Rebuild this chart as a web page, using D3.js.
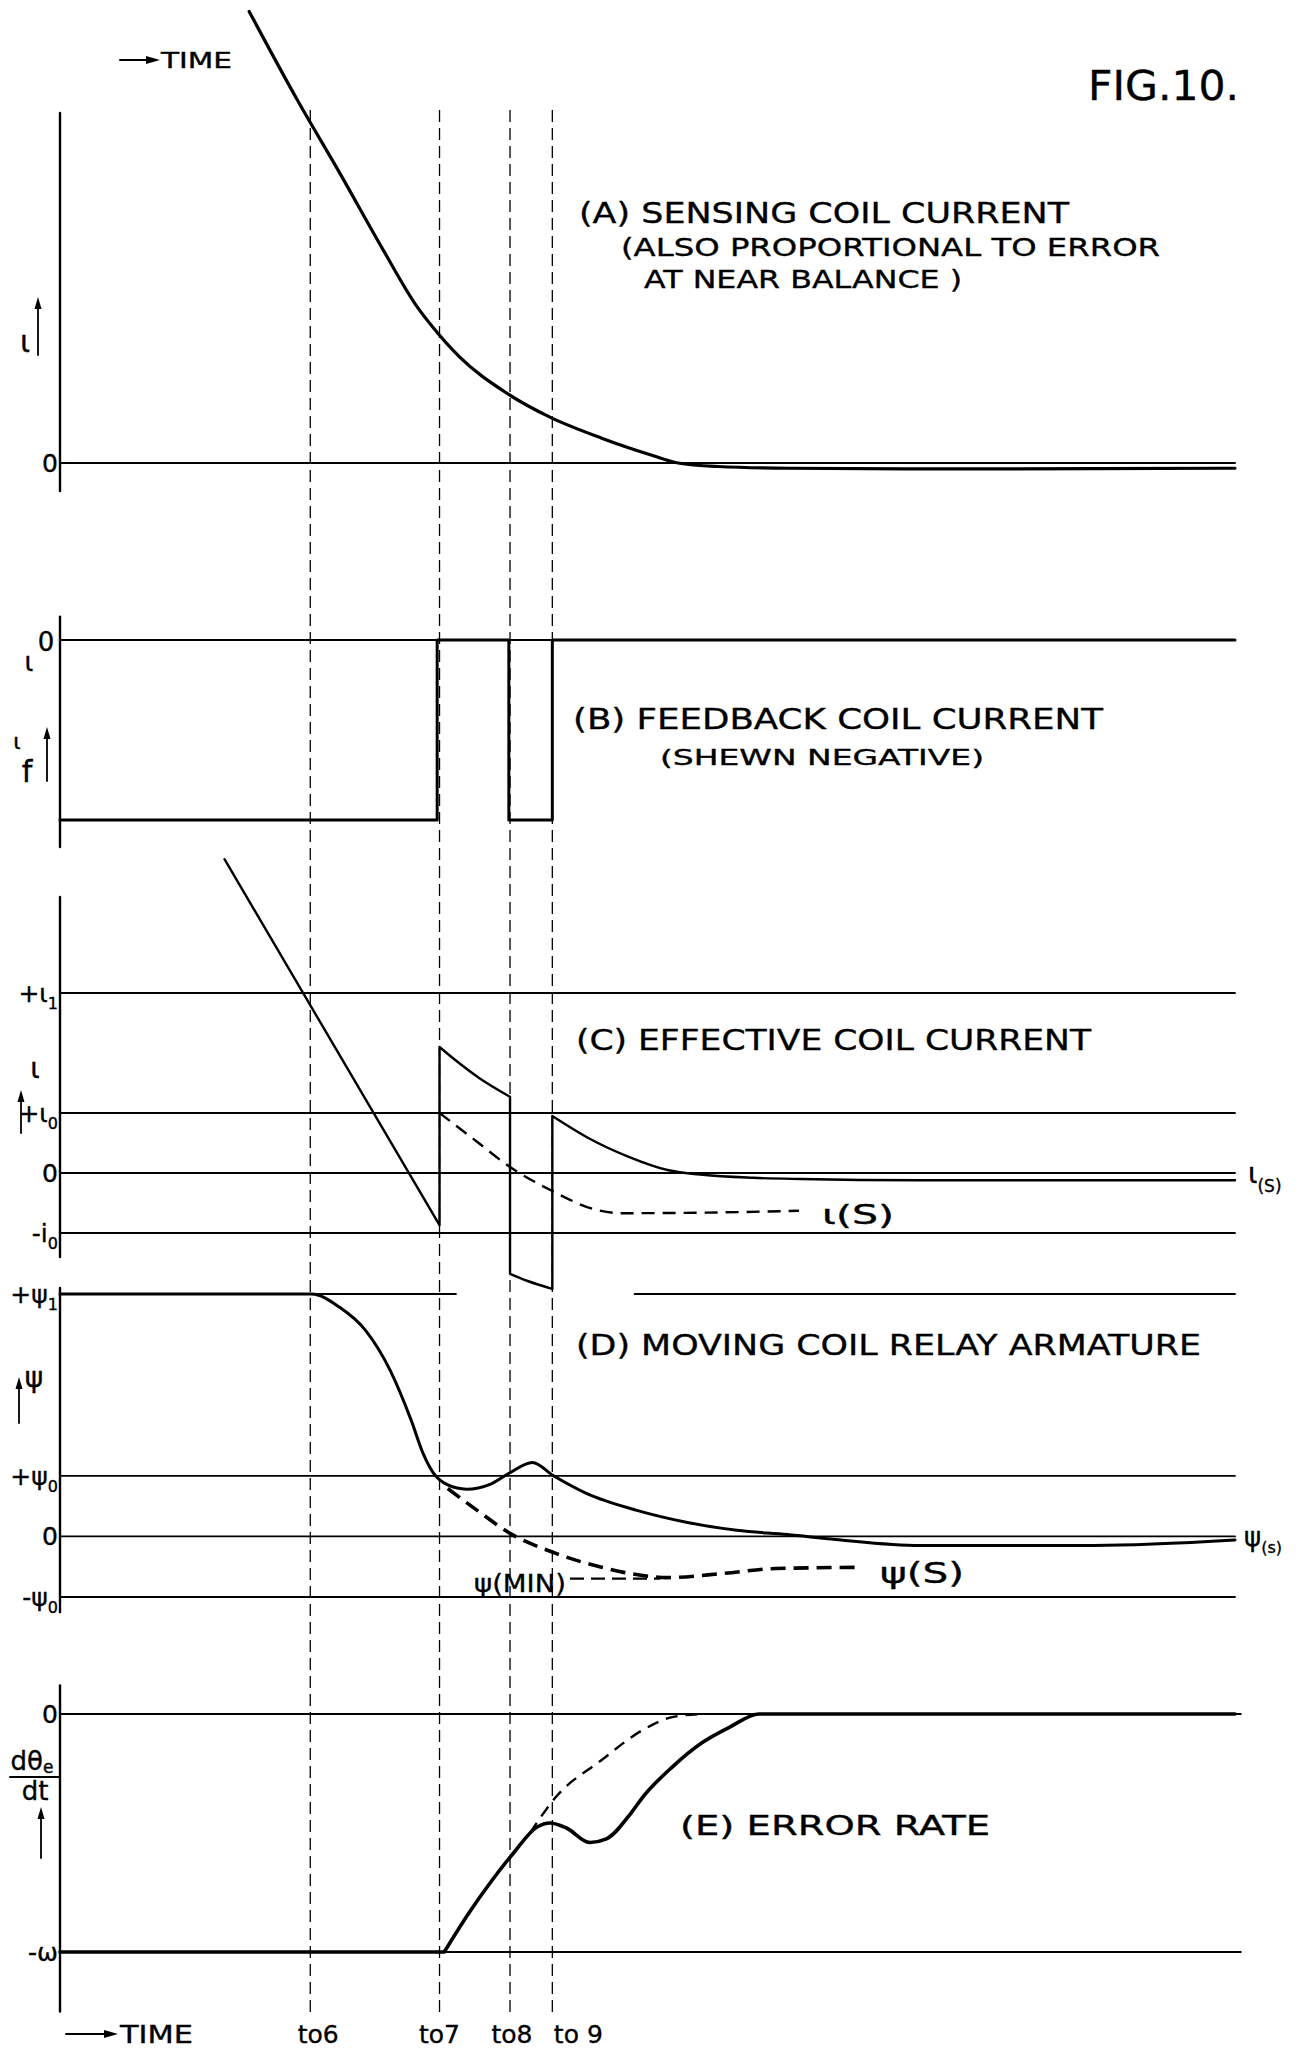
<!DOCTYPE html>
<html>
<head>
<meta charset="utf-8">
<script src="https://cdn.jsdelivr.net/npm/d3@7/dist/d3.min.js"></script>
<style>
  html, body { margin: 0; padding: 0; background: #fff; }
  svg { display: block; background: #fff; }
  text { font-family: "DejaVu Sans", sans-serif; fill: #000; stroke: #000; stroke-width: 0.35; }
</style>
</head>
<body>
<div id="chart"></div>
<script>
// Fig. 10 — relay servo waveforms, five stacked panels on a common time axis.

// ---- data -------------------------------------------------------------
// time runs 0..100 across the sheet
const timeMarkers = [21.3, 32.3, 38.3, 41.9];
const timeLabels = ['to6', 'to7', 'to8', 'to 9'];

// (A) sensing coil current, 0 = balance
const sensingCurrent = [
  [16.1, 1.29], [20.2, 1.037], [23.8, 0.829], [27.5, 0.609], [30.4, 0.446],
  [31.7, 0.389], [34.0, 0.303], [38.0, 0.2], [41.7, 0.131], [46.1, 0.071],
  [50.3, 0.023], [52.6, 0], [56, -0.01], [62, -0.015], [75, -0.017],
  [88, -0.016], [100, -0.015],
];

// (B) feedback coil current (shewn negative): 0 = off, -1 = on
const feedbackCurrent = [
  [0, -1], [32.1, -1], [32.1, 0], [38.2, 0], [38.2, -1],
  [41.9, -1], [41.9, 0], [100, 0],
];

// (C) effective coil current, in units of i0
const effRamp = [[14.0, 5.23], [32.3, -0.87]];
const effPulse1 = [[32.3, 2.1], [33.4, 1.92], [35.7, 1.58], [38.3, 1.27]];
const effPulse2 = [[38.3, -1.68], [39.8, -1.8], [41.9, -1.93]];
const effTail = [
  [41.9, 0.95], [45.0, 0.58], [48.4, 0.27], [51.7, 0.05], [54.7, -0.03],
  [59, -0.08], [63, -0.1], [73.2, -0.12], [88, -0.12], [100, -0.12],
];
const effSteady = [
  [32.3, 1.0], [35.3, 0.55], [38.3, 0.1], [41.9, -0.3], [45.4, -0.6],
  [47.7, -0.67], [55, -0.66], [62.9, -0.63],
];
const levelsC = [3, 1, 0, -1];

// (D) moving coil relay armature, in units of psi0
const armature = [
  [0, 4], [21.4, 4], [23.8, 3.78], [26.0, 3.40], [28.1, 2.74], [29.9, 1.91],
  [30.9, 1.37], [31.8, 1.04], [33.0, 0.85], [34.6, 0.78], [36.6, 0.86],
  [38.3, 1.05], [40.2, 1.22], [42.0, 1.0], [44.8, 0.71], [49.1, 0.43],
  [53.4, 0.23], [57.6, 0.1], [61.9, 0.03], [66, -0.05], [73.2, -0.15],
  [88, -0.15], [100, -0.06],
];
const armatureSteady = [
  [33.0, 0.79], [35.5, 0.43], [38.3, 0.05], [42.2, -0.28], [46.1, -0.51],
  [50.2, -0.66], [51.6, -0.68], [56.5, -0.61], [60.9, -0.53], [68.3, -0.51],
];
const levelsD = [1, 0, -1];
const psi1Spans = [[0, 33.7], [48.9, 100]];

// (E) error rate, in units of omega
const rateFlat = [[0, -1], [32.7, -1]];
const errorRate = [
  [32.7, -1], [34.8, -0.836], [36.6, -0.71], [38.6, -0.584], [40.6, -0.475],
  [41.7, -0.458], [43.1, -0.479], [45.1, -0.54], [46.5, -0.525], [48.6, -0.416],
  [49.6, -0.349], [52.1, -0.223], [54.6, -0.122], [57.0, -0.055], [59.5, 0],
  [100, 0],
];
const rateIdeal = [
  [40.0, -0.5], [42.2, -0.349], [46.1, -0.193], [49.6, -0.067], [52.1, -0.013], [54.6, 0],
];
const levelsE = [0, -1];

// left-hand level labels: [value, main text, subscript]
const labelsA = [[0, '0', '']];
const labelsC = [[3, '+ι', '1'], [1, '+ι', '0'], [0, '0', ''], [-1, '-i', '0']];
const labelsD = [[4, '+ψ', '1'], [1, '+ψ', '0'], [0, '0', ''], [-1, '-ψ', '0']];
const labelsE = [[0, '0', ''], [-1, '-ω', '']];

// ---- layout -------------------------------------------------------------
const W = 1307, H = 2049;
const svg = d3.select('#chart').append('svg').attr('width', W).attr('height', H);

const x = d3.scaleLinear().domain([0, 100]).range([60, 1235]);
const yA = d3.scaleLinear().domain([0, 1]).range([463, 113]);
const yB = d3.scaleLinear().domain([-1, 0]).range([820, 640]);
const yC = d3.scaleLinear().domain([-1, 3]).range([1233, 993]);
const yD = d3.scaleLinear().domain([-1, 4]).range([1597, 1294]);
const yE = d3.scaleLinear().domain([-1, 0]).range([1952, 1714]);

function joined(segments, yScale, curve = d3.curveMonotoneX) {
  const line = d3.line().x(d => x(d[0])).y(d => yScale(d[1])).curve(curve);
  return segments.map((s, i) => (i === 0 ? line(s) : 'L' + line(s).slice(1))).join('');
}

function stroke(sel, w) {
  return sel.attr('fill', 'none').attr('stroke', '#000').attr('stroke-width', w)
    .attr('stroke-linejoin', 'round').attr('stroke-linecap', 'round');
}

const gGrid = svg.append('g');
const gCurves = svg.append('g');
const gText = svg.append('g');

// time markers, dashed all the way down
gGrid.selectAll('.marker')
  .data(timeMarkers)
  .join('line')
  .attr('class', 'marker')
  .attr('x1', d => x(d)).attr('x2', d => x(d))
  .attr('y1', 110).attr('y2', 2012)
  .call(stroke, 1.3)
  .attr('stroke-linecap', 'butt')
  .attr('stroke-dasharray', '12,6');

// left axes of each panel
const axisSpans = [[yA, 1.0, -0.08], [yB, 0.13, -1.15], [yC, 4.6, -1.4], [yD, 4.1, -1.25], [yE, 0.12, -1.25]];
axisSpans.forEach(([s, top, bottom]) => {
  stroke(gGrid.append('line'), 2.4)
    .attr('x1', x(0)).attr('x2', x(0)).attr('y1', s(top)).attr('y2', s(bottom));
});

// level lines
function levelLine(s, v, t0 = 0, t1 = 100, w = 1.8) {
  stroke(gGrid.append('line'), w)
    .attr('x1', x(t0)).attr('x2', x(t1)).attr('y1', s(v)).attr('y2', s(v));
}
levelLine(yA, 0, 0, 100, 2);
levelLine(yB, 0, 0, 100, 2);
levelsC.forEach(v => levelLine(yC, v));
psi1Spans.forEach(([a, b]) => levelLine(yD, 4, a, b));
levelsD.forEach(v => levelLine(yD, v));
levelsE.forEach(v => levelLine(yE, v, 0, 100.5));

// curves
stroke(gCurves.append('path'), 3.2).attr('d', joined([sensingCurrent], yA));
stroke(gCurves.append('path'), 3).attr('d', joined([feedbackCurrent], yB, d3.curveLinear));
stroke(gCurves.append('path'), 2.4).attr('d', joined([effRamp, effPulse1, effPulse2, effTail], yC));
stroke(gCurves.append('path'), 2.4).attr('d', joined([effSteady], yC))
  .attr('stroke-linecap', 'butt').attr('stroke-dasharray', '13,8');
stroke(gCurves.append('path'), 3).attr('d', joined([armature], yD));
stroke(gCurves.append('path'), 3.6).attr('d', joined([armatureSteady], yD))
  .attr('stroke-linecap', 'butt').attr('stroke-dasharray', '15,8');
stroke(gCurves.append('path'), 3.6).attr('d', joined([rateFlat, errorRate], yE));
stroke(gCurves.append('path'), 2.4).attr('d', joined([rateIdeal], yE))
  .attr('stroke-linecap', 'butt').attr('stroke-dasharray', '12,8');

// psi(min) leader
const psiMin = armatureSteady.reduce((a, b) => (b[1] < a[1] ? b : a));
stroke(gCurves.append('line'), 2.2)
  .attr('x1', 570).attr('x2', x(psiMin[0]) - 6)
  .attr('y1', yD(psiMin[1]) + 1).attr('y2', yD(psiMin[1]) + 1)
  .attr('stroke-linecap', 'butt').attr('stroke-dasharray', '14,7');

// ---- text -------------------------------------------------------------
function label(txt, px, py, size, opts = {}) {
  const t = gText.append('text')
    .attr('x', px).attr('y', py)
    .attr('font-size', size)
    .attr('text-anchor', opts.anchor || 'start')
    .text(txt);
  if (opts.len) t.attr('textLength', opts.len).attr('lengthAdjust', 'spacingAndGlyphs');
  return t;
}

function levelLabels(list, s) {
  list.forEach(([v, main, sub]) => {
    const t = gText.append('text')
      .attr('x', 58).attr('y', s(v) + 9)
      .attr('font-size', 25).attr('text-anchor', 'end');
    t.append('tspan').text(main);
    if (sub) t.append('tspan').attr('font-size', 16).attr('dy', 7).text(sub);
  });
}
levelLabels(labelsA, yA);
levelLabels(labelsC, yC);
levelLabels(labelsD, yD);
levelLabels(labelsE, yE);

// B: "i 0" at top level
label('ι', 29, yB(0) + 31, 26, { anchor: 'middle' });
label('0', 46, yB(0) + 11, 26, { anchor: 'middle' });

// variable names with up arrows
function upArrow(px, y0, y1) {
  stroke(gText.append('line'), 1.8)
    .attr('x1', px).attr('x2', px).attr('y1', y0).attr('y2', y1 + 8);
  gText.append('path')
    .attr('d', `M${px - 3.5},${y1 + 12} L${px},${y1} L${px + 3.5},${y1 + 12} Z`)
    .attr('fill', '#000');
}
label('ι', 25, 352, 30, { anchor: 'middle' });
upArrow(38, 355, 297);
label('ι', 17, 749, 22, { anchor: 'middle' });
label('f', 27, 782, 30, { anchor: 'middle' });
upArrow(47, 781, 727);
label('ι', 35, 1078, 28, { anchor: 'middle' });
upArrow(21, 1133, 1090);
label('ψ', 34, 1387, 28, { anchor: 'middle' });
upArrow(19, 1423, 1377);

const dth = label('dθ', 32, 1770, 26, { anchor: 'middle' });
dth.append('tspan').attr('font-size', 17).attr('dy', 3).text('e');
stroke(gText.append('line'), 2).attr('x1', 10).attr('x2', 60).attr('y1', 1777).attr('y2', 1777);
label('dt', 35, 1800, 26, { anchor: 'middle' });
upArrow(41, 1858, 1807);

// right-hand steady-state tags
const iS = label('ι', 1248, 1183, 28);
iS.append('tspan').attr('font-size', 17).attr('dy', 9).text('(S)');
const psiS = label('ψ', 1244, 1546, 26);
psiS.append('tspan').attr('font-size', 16).attr('dy', 7).text('(s)');

label('ι(S)', 822, 1224, 26, { len: 72 });
label('ψ(S)', 880, 1583, 28, { len: 84 });
label('ψ(MIN)', 474, 1592, 24, { len: 92 });

// panel titles
label('FIG.10.', 1088, 100, 40, { len: 151 }).attr('stroke-width', 1.8);
label('(A) SENSING COIL CURRENT', 579, 223, 29, { len: 490 });
label('(ALSO PROPORTIONAL TO ERROR', 621, 256, 25, { len: 539 });
label('AT NEAR BALANCE )', 644, 288, 25, { len: 318 });
label('(B) FEEDBACK COIL CURRENT', 573, 729, 28, { len: 530 });
label('(SHEWN NEGATIVE)', 660, 765, 22, { len: 324 });
label('(C) EFFECTIVE COIL CURRENT', 576, 1050, 28, { len: 515 });
label('(D) MOVING COIL RELAY ARMATURE', 576, 1355, 28, { len: 625 });
label('(E) ERROR RATE', 680, 1835, 27, { len: 310 });

// time arrows
function timeArrow(x0, x1, py) {
  stroke(gText.append('line'), 2).attr('x1', x0).attr('x2', x1 - 8).attr('y1', py).attr('y2', py);
  gText.append('path')
    .attr('d', `M${x1 - 14},${py - 4} L${x1},${py} L${x1 - 14},${py + 4} Z`)
    .attr('fill', '#000');
}
timeArrow(120, 160, 60);
label('TIME', 161, 68, 22, { len: 71 });
timeArrow(66, 118, 2034);
label('TIME', 120, 2043, 25, { len: 73 });

// time tick labels along the bottom
const tickShift = [8, 0, 2, 26];
gText.selectAll('.tick-label')
  .data(timeLabels)
  .join('text')
  .attr('class', 'tick-label')
  .attr('x', (d, i) => x(timeMarkers[i]) + tickShift[i])
  .attr('y', 2043)
  .attr('font-size', 25)
  .attr('text-anchor', 'middle')
  .text(d => d);
</script>
</body>
</html>
